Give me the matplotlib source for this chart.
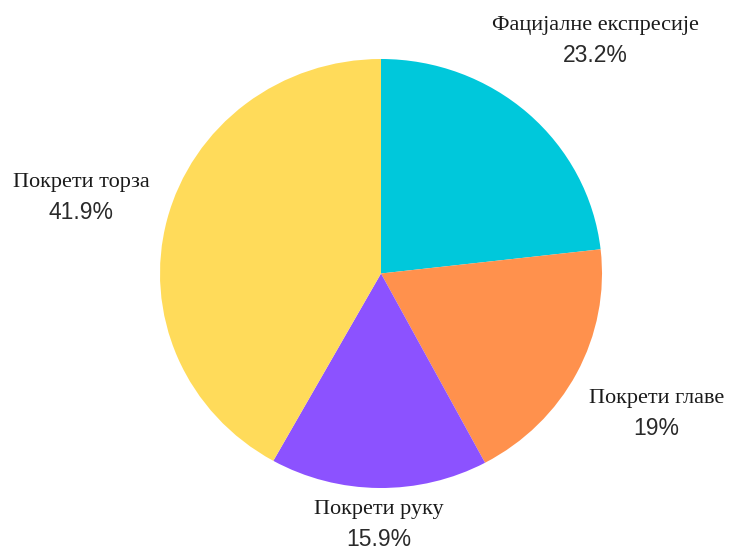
import numpy as np
import matplotlib
matplotlib.use("Agg")
import matplotlib.pyplot as plt

categories = ["Фацијалне експресије", "Покрети главе", "Покрети руку", "Покрети торза"]
values = [23.2, 19.0, 15.9, 41.9]
pct_labels = ["23.2%", "19%", "15.9%", "41.9%"]

colors = ["#00C8DB", "#FF914D", "#8C52FF", "#FFDB5A"]
label_dist = [1.457, 1.408, 1.17, 1.403]

W, H, DPI = 729, 550, 100
fig = plt.figure(figsize=(W / DPI, H / DPI), dpi=DPI)
ax = fig.add_axes([0, 0, 1, 1])
ax.set_axis_off()

wedges, _ = ax.pie(values, colors=colors, startangle=90, counterclock=False,
                   wedgeprops=dict(linewidth=0))
ax.set_aspect("auto")
cx, cy, rx, ry = 381, 273.5, 221, 214.5
ax.set_xlim(-cx / rx, (W - cx) / rx)
ax.set_ylim(-(H - cy) / ry, cy / ry)

total = sum(values)
cum = 0
for name, pct, v, d in zip(categories, pct_labels, values, label_dist):
    mid = (cum + v / 2) / total * 2 * np.pi
    cum += v
    x = d * np.sin(mid)
    y = d * np.cos(mid)
    ax.annotate(name, (x, y), xytext=(0, 10.8), textcoords="offset points",
                ha="center", va="center", fontsize=16,
                family="Liberation Serif", color="#1a1a1a")
    ax.annotate(pct, (x, y), xytext=(0, -10.8), textcoords="offset points",
                ha="center", va="center", fontsize=16.5,
                family="Liberation Sans", color="#2a2a2a")

fig.savefig("out.png", dpi=DPI)
